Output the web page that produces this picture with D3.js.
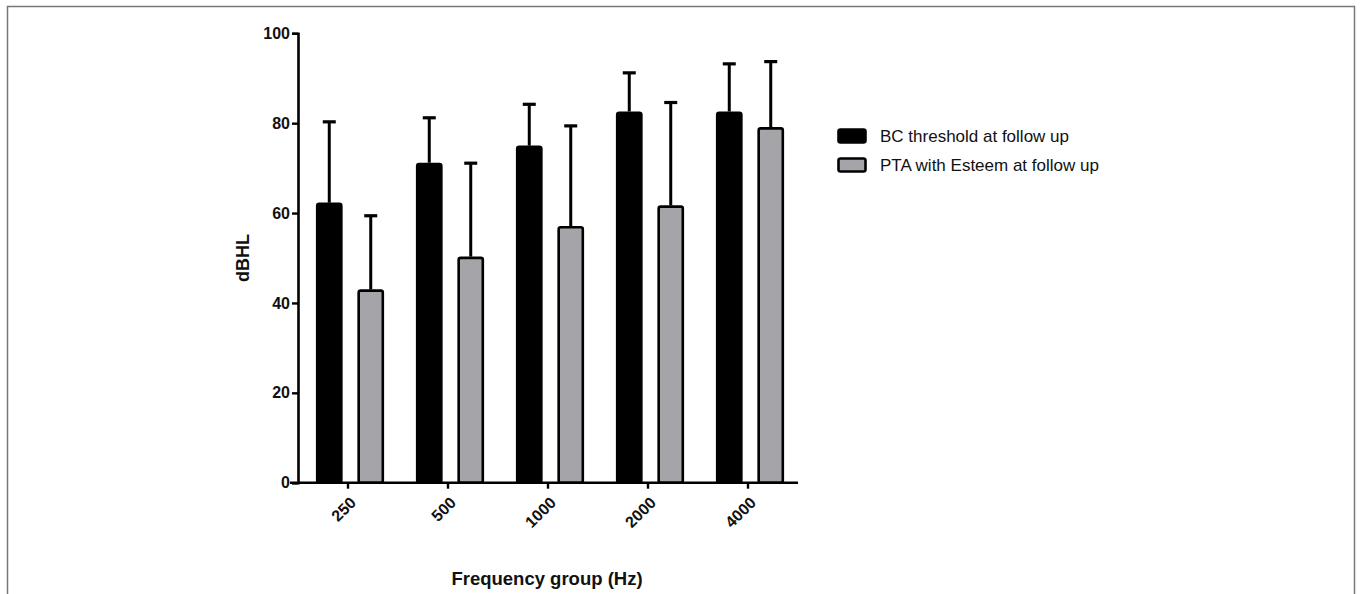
<!DOCTYPE html>
<meta charset="utf-8">
<style>
body { margin: 0; background: #fff; }
svg { display: block; font-family: "Liberation Sans", Arial, sans-serif; }
.tick text { font-weight: bold; font-size: 16px; fill: #111; }
</style>
<svg width="1360" height="594"></svg>
<script src="https://d3js.org/d3.v7.min.js"></script>
<script>

// dados
var frequencias = ["250", "500", "1000", "2000", "4000"];
var seriesNomes = ["BC threshold at follow up", "PTA with Esteem at follow up"];
var bcMedia = [62.3, 71.2, 75.0, 82.6, 82.6];
var bcSD    = [18.0, 10.0, 9.2, 8.6, 10.6];
var ptaMedia = [43.0, 50.3, 57.1, 61.7, 79.1];
var ptaSD    = [16.4, 20.8, 22.3, 22.9, 14.6];
var yTicks = [0, 20, 40, 60, 80, 100];

var cores = ["#000000", "#a4a4a9"];

var svg = d3.select("svg");

// moldura
svg.append("rect")
    .attr("x", 7.5).attr("y", 6.5)
    .attr("width", 1347).attr("height", 600)
    .attr("fill", "none")
    .attr("stroke", "#777").attr("stroke-width", 1.5);

var x = d3.scaleBand().domain(frequencias).range([298, 798]);
var y = d3.scaleLinear().domain([0, 100]).range([482.7, 33.3]);

// posição das barras dentro de cada grupo
var sub = d3.scaleBand().domain([0, 1]).range([18, 86]).paddingInner(0.36);

var dados = [];
frequencias.forEach(function(f, i) {
  dados.push({f: f, s: 0, v: bcMedia[i], sd: bcSD[i]});
  dados.push({f: f, s: 1, v: ptaMedia[i], sd: ptaSD[i]});
});

var g = svg.append("g");

// barras de erro (só para cima)
g.selectAll("line.err")
  .data(dados)
  .enter().append("line")
    .attr("class", "err")
    .attr("x1", d => x(d.f) + sub(d.s) + sub.bandwidth() / 2)
    .attr("x2", d => x(d.f) + sub(d.s) + sub.bandwidth() / 2)
    .attr("y1", d => y(d.v))
    .attr("y2", d => y(d.v + d.sd))
    .attr("stroke", "#000").attr("stroke-width", 3);

g.selectAll("line.cap")
  .data(dados)
  .enter().append("line")
    .attr("class", "cap")
    .attr("x1", d => x(d.f) + sub(d.s) + sub.bandwidth() / 2 - 6.5)
    .attr("x2", d => x(d.f) + sub(d.s) + sub.bandwidth() / 2 + 6.5)
    .attr("y1", d => y(d.v + d.sd))
    .attr("y2", d => y(d.v + d.sd))
    .attr("stroke", "#000").attr("stroke-width", 3.2);

g.selectAll("rect.bar")
  .data(dados)
  .enter().append("rect")
    .attr("class", "bar")
    .attr("x", d => x(d.f) + sub(d.s) + 1.2)
    .attr("width", sub.bandwidth() - 2.4)
    .attr("y", d => y(d.v) + 1.2)
    .attr("height", d => y(0) - y(d.v) - 1.2)
    .attr("rx", 2)
    .attr("fill", d => cores[d.s])
    .attr("stroke", "#000").attr("stroke-width", 2.6);

// eixo y
var eixoY = svg.append("g")
    .attr("transform", "translate(298,0)")
    .call(d3.axisLeft(y).tickValues(yTicks).tickSize(6).tickPadding(2));
eixoY.select(".domain").attr("stroke-width", 2.6).attr("stroke", "#000");
eixoY.selectAll(".tick line").attr("stroke-width", 2.4).attr("stroke", "#000");

// eixo x
var eixoX = svg.append("g")
    .attr("transform", "translate(0," + y(0) + ")")
    .call(d3.axisBottom(x).tickSize(6).tickSizeOuter(0));
eixoX.select(".domain").attr("stroke-width", 2.6).attr("stroke", "#000")
    .attr("d", "M290,0H798");
eixoX.selectAll(".tick line").attr("stroke-width", 2.4).attr("stroke", "#000");
eixoX.selectAll(".tick text")
    .attr("text-anchor", "end")
    .attr("dy", "0.35em")
    .attr("transform", "translate(5,17) rotate(-45)")
    .attr("y", 0).attr("x", 0);

// títulos
svg.append("text")
    .attr("transform", "translate(249,258) rotate(-90)")
    .attr("text-anchor", "middle")
    .attr("font-weight", "bold").attr("font-size", 18).attr("fill", "#111")
    .text("dBHL");

svg.append("text")
    .attr("x", 547).attr("y", 585)
    .attr("text-anchor", "middle")
    .attr("font-weight", "bold").attr("font-size", 18.5).attr("fill", "#111")
    .text("Frequency group (Hz)");

// legenda
var leg = svg.append("g").attr("transform", "translate(838,129)");
seriesNomes.forEach(function(n, i) {
  leg.append("rect")
    .attr("x", 0.5).attr("y", i * 29 + 0.5)
    .attr("width", 27).attr("height", 13).attr("rx", 2)
    .attr("fill", cores[i]).attr("stroke", "#000").attr("stroke-width", 2.6);
  leg.append("text")
    .attr("x", 42).attr("y", i * 29 + 13)
    .attr("font-size", 17).attr("fill", "#111")
    .text(n);
});

</script>
